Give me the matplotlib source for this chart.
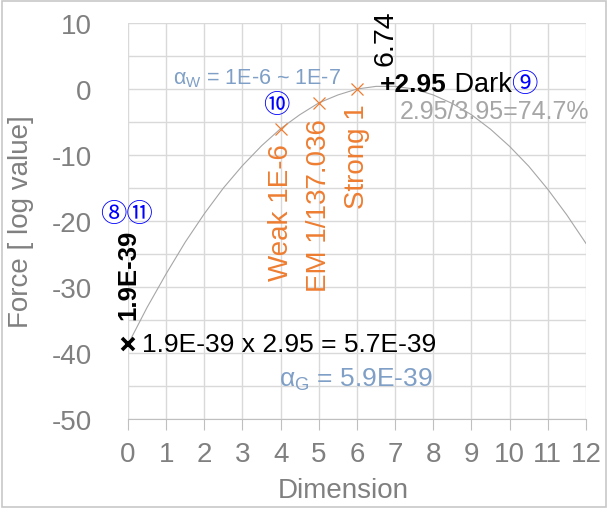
import matplotlib
matplotlib.use("Agg")
import matplotlib.pyplot as plt
from matplotlib.patches import Rectangle

plt.rcParams['font.family'] = ['Liberation Sans', 'DejaVu Sans']
plt.rcParams['mathtext.fontset'] = 'custom'
plt.rcParams['mathtext.rm'] = 'Liberation Sans'
plt.rcParams['mathtext.it'] = 'Liberation Sans'
plt.rcParams['axes.unicode_minus'] = False

# curve (log10 of force vs dimension)
curve_x = [0, 0.5, 1, 1.5, 2, 2.5, 3, 3.5, 4, 4.5, 5, 5.5, 6, 6.5,
           7, 7.5, 8, 8.5, 9, 9.5, 10, 10.5, 11, 11.5, 12]
curve_y = [-38.7, -33.1, -28.0, -23.2, -18.9, -15.0, -11.6, -8.6, -6.0, -3.9,
           -2.1, -0.9, 0.0, 0.4, 0.4, 0.0, -0.9, -2.2, -3.9, -6.1,
           -8.7, -11.7, -15.2, -19.1, -23.4]

# forces (orange markers)
force_x = [4, 5, 6]
force_y = [-6.0, -2.14, 0.0]
force_labels = ["Weak 1E-6", "EM 1/137.036", "Strong 1"]

# gravity point
grav_x = 0
grav_y = -38.7

peak_x = 6.74

gray = '#808080'
grid_c = '#d9d9d9'
orange = '#ED7D31'
steel = '#7f9fc6'
cjk = ['Noto Sans CJK JP', 'DejaVu Sans']

fig = plt.figure(figsize=(6.08, 5.10), dpi=100)
ax = fig.add_axes([0.2105, 0.1765, 0.7533, 0.7764])

ax.plot(curve_x, curve_y, color='#a6a6a6', lw=0.8, zorder=2)
ax.plot(force_x, force_y, 'x', color=orange, ms=9, mew=0.9, zorder=3)
ax.plot([grav_x], [grav_y], 'x', color='black', ms=9, mew=2.6, zorder=3,
        clip_on=False)

ax.set_xlim(0, 12)
ax.set_ylim(-50, 10)
ax.set_xticks(range(0, 13))
ax.set_yticks(range(-50, 11, 10))
ax.set_yticks(range(-45, 10, 10), minor=True)
ax.grid(True, which='both', color=grid_c, lw=1)
ax.set_axisbelow(True)
for s in ['left', 'right', 'top']:
    ax.spines[s].set_visible(False)
ax.spines['bottom'].set_color('#bfbfbf')
ax.tick_params(axis='x', length=8, color='#bfbfbf', labelsize=20,
               labelcolor=gray, pad=8)
ax.tick_params(axis='y', which='both', length=0, labelsize=20,
               labelcolor=gray, pad=26)
ax.set_xlabel("Dimension", fontsize=20, color=gray)
ax.set_ylabel("Force [ log value]", fontsize=20, color=gray)
ax.xaxis.set_label_coords(0.469, -0.147)
ax.yaxis.set_label_coords(-0.205, 0.5)

# annotations
ax.text(1.18, 1.7, r'$\alpha_{\mathrm{W}}$ = 1E-6 ~ 1E-7', fontsize=15.5,
        color=steel, va='center', ha='left')
ax.text(3.88, -2.4, '⑩', fontsize=19, color='blue', family=cjk,
        ha='center', va='center')
ax.text(peak_x, 3.6, '6.74', fontsize=20.5, rotation=90, ha='center',
        va='bottom', color='black')

t1 = ax.text(6.60, 0.76, '+2.95', fontsize=19, fontweight='bold',
             color='black', va='center', ha='left')
t2 = ax.annotate(' Dark', xy=(1, 0.5), xycoords=t1, fontsize=19.5,
                 color='black', va='center', ha='left')
ax.annotate('⑨', xy=(1, 0.5), xycoords=t2, fontsize=19, color='blue',
            family=cjk, va='center', ha='left')
ax.text(7.13, -3.3, '2.95/3.95=74.7%', fontsize=18, color='#a6a6a6',
        va='center', ha='left')

ax.text(-0.74, -18.9, '⑧⑪', fontsize=19, color='blue', family=cjk,
        va='center', ha='left')
ax.text(0.0, -34.8, '1.9E-39', fontsize=18.5, fontweight='bold',
        rotation=90, ha='center', va='bottom', color='black')
ax.text(0.37, -38.6, '1.9E-39 x 2.95 = 5.7E-39', fontsize=19,
        color='black', va='center', ha='left')
ax.text(7.99, -43.9, r'$\alpha_{\mathrm{G}}$ = 5.9E-39', fontsize=19,
        color=steel, va='center', ha='right')

for fx, fy, lab in zip(force_x, force_y, force_labels):
    ax.text(fx, fy - 2.2, lab, fontsize=20, color=orange, rotation=90,
            ha='center', va='top')

fig.patches.append(Rectangle((0.004, 0.004), 0.992, 0.992,
                             transform=fig.transFigure, fill=False,
                             edgecolor='#c8c8c8', lw=1.2))

fig.savefig("out.png", dpi=100)
